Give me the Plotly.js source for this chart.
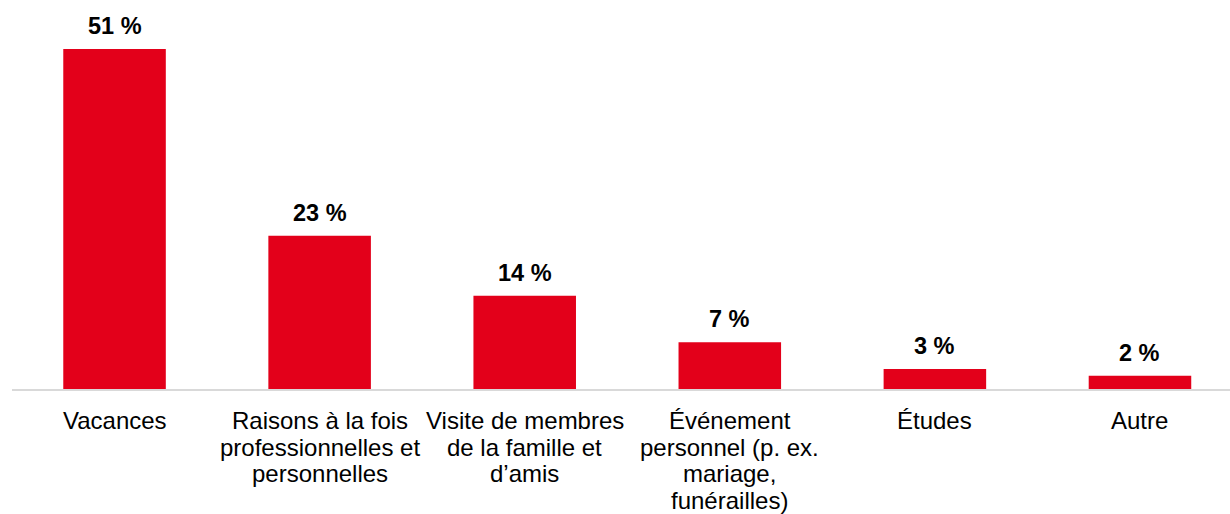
<!DOCTYPE html>
<html>
<head>
<meta charset="utf-8">
<script src="https://cdn.plot.ly/plotly-3.0.1.min.js"></script>
<style>html,body{margin:0;padding:0;background:#fff;}#chart{width:1230px;height:514px;}</style>
</head>
<body>
<div id="chart"></div>
<script>
const categories = [
  ["Vacances"],
  ["Raisons à la fois", "professionnelles et", "personnelles"],
  ["Visite de membres", "de la famille et", "d’amis"],
  ["Événement", "personnel (p. ex.", "mariage,", "funérailles)"],
  ["Études"],
  ["Autre"]
];
const values = [51, 23, 14, 7, 3, 2];
const valueLabels = ["51 %", "23 %", "14 %", "7 %", "3 %", "2 %"];

const FONT = "'Liberation Sans', Arial, sans-serif";
const catNames = categories.map(c => c.join(" "));

const annotations = [];
catNames.forEach((name, i) => {
  annotations.push({
    x: name, y: values[i], xref: 'x', yref: 'y',
    text: valueLabels[i], showarrow: false,
    xanchor: 'center', yanchor: 'bottom', yshift: 8,
    font: {family: FONT, size: 23.5, color: '#000', weight: 'bold'}
  });
  categories[i].forEach((line, j) => {
    annotations.push({
      x: name, y: 0, xref: 'x', yref: 'paper',
      text: line, showarrow: false,
      xanchor: 'center', yanchor: 'top', yshift: -16 - j * 26.7,
      font: {family: FONT, size: 24, color: '#000'}
    });
  });
});

const trace = {
  type: 'bar',
  x: catNames,
  y: values,
  marker: {color: '#E3001A'},
  hoverinfo: 'skip'
};

const layout = {
  width: 1230, height: 514,
  margin: {l: 12, r: 0, t: 29, b: 125, pad: 0},
  paper_bgcolor: '#fff', plot_bgcolor: '#fff',
  bargap: 0.5,
  showlegend: false,
  font: {family: FONT, size: 24, color: '#000'},
  xaxis: {
    type: 'category',
    range: [-0.5, 5.439],
    showticklabels: false,
    ticks: '',
    showgrid: false,
    zeroline: false,
    showline: true, linecolor: '#D9D9D9', linewidth: 1.5
  },
  yaxis: {
    range: [0, 54],
    visible: false,
    showgrid: false, zeroline: false
  },
  annotations: annotations
};

Plotly.newPlot('chart', [trace], layout, {staticPlot: true, displayModeBar: false});
</script>
</body>
</html>
